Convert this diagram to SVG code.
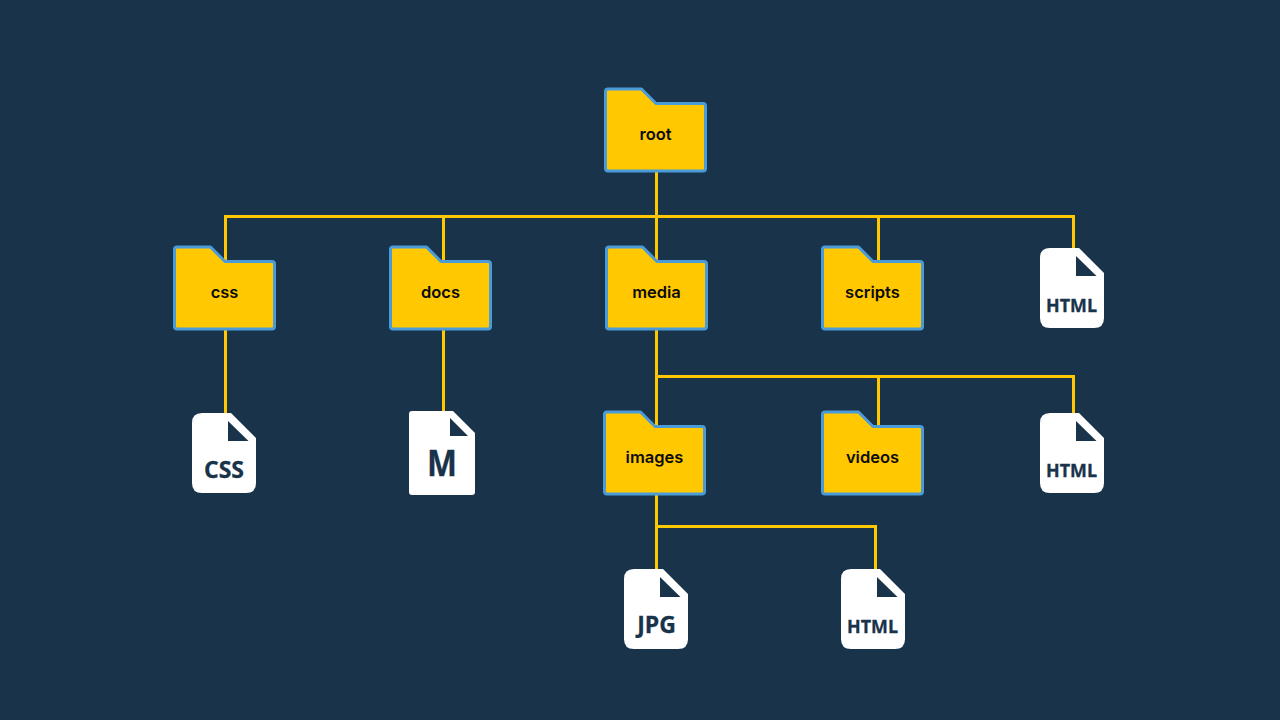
<svg xmlns="http://www.w3.org/2000/svg" width="1280" height="720" viewBox="0 0 1280 720">
<style>
.folder{fill:#ffc800;stroke:#4a9bd8;stroke-width:3;stroke-linejoin:round}
.flabel{font-family:Inter,"Liberation Sans",sans-serif;font-size:16.500px;font-weight:600;fill:#0b0b0b;text-anchor:middle}
.page{fill:#fff}
.notch{fill:#19334b}
.ftext{font-family:"Open Sans","Noto Sans",sans-serif;font-weight:700;fill:#19334b;stroke:#19334b;stroke-width:.3;text-anchor:middle}
.conn{fill:none;stroke:#ffc800;stroke-width:3}
</style>
<defs>
<path id="fo" class="folder" d="M3 0H36.500L51 14.500H98Q100.500 14.500 100.500 17V79.500Q100.500 82 98 82H3Q0.500 82 0.500 79.500V2.500Q0.500 0 3 0Z"/>
<path id="fi" class="page" d="M10 0H39L64 25V70Q64 80 54 80H10Q0 80 0 70V10Q0 0 10 0Z"/>
<path id="tri" class="notch" d="M36 8L56.500 28H36Z"/>
</defs>
<rect width="1280" height="720" fill="#19334b"/>
<g id="connectors">
<path class="conn" d="M656.500 171V262"/>
<path class="conn" d="M225.500 262V216.500H1073.500V248"/>
<path class="conn" d="M443.500 216.500V262M878.500 216.500V262"/>
<path class="conn" d="M225.500 329V413M443.500 329V411"/>
<path class="conn" d="M656.500 329V427M656.500 376.500H1073.500V413M878.500 376.500V427"/>
<path class="conn" d="M656.500 494V569M656.500 526.500H875.500V569"/>
</g>
<g id="root"><use href="#fo" x="605" y="89"/><text class="flabel" x="655.500" y="140">root</text></g>
<g id="css"><use href="#fo" x="174" y="247"/><text class="flabel" x="224.500" y="298">css</text></g>
<g id="docs"><use href="#fo" x="390" y="247"/><text class="flabel" x="440.500" y="298">docs</text></g>
<g id="media"><use href="#fo" x="606" y="247"/><text class="flabel" x="656.500" y="298">media</text></g>
<g id="scripts"><use href="#fo" x="822" y="247"/><text class="flabel" x="872.500" y="298">scripts</text></g>
<g id="images"><use href="#fo" x="604" y="412"/><text class="flabel" x="654.500" y="463">images</text></g>
<g id="videos"><use href="#fo" x="822" y="412"/><text class="flabel" x="872.500" y="463">videos</text></g>
<g id="file-html-1"><use href="#fi" x="1040" y="248"/><use href="#tri" x="1040" y="248"/><text class="ftext" x="1071.500" y="312" font-size="18.500" textLength="51" lengthAdjust="spacingAndGlyphs">HTML</text></g>
<g id="file-html-2"><use href="#fi" x="1040" y="413"/><use href="#tri" x="1040" y="413"/><text class="ftext" x="1071.500" y="477" font-size="18.500" textLength="51" lengthAdjust="spacingAndGlyphs">HTML</text></g>
<g id="file-css"><use href="#fi" x="192" y="413"/><use href="#tri" x="192" y="413"/><text class="ftext" x="224" y="478" font-size="23">CSS</text></g>
<g id="file-md"><path class="page" d="M412 411H453L475 433V492Q475 495 472 495H412Q409 495 409 492V414Q409 411 412 411Z"/><path class="notch" d="M450 418L468 436H450Z"/><text class="ftext" x="442" y="476" font-size="36" stroke-width="1.800" stroke-linejoin="round" textLength="30" lengthAdjust="spacingAndGlyphs">M</text></g>
<g id="file-jpg"><use href="#fi" x="624" y="569"/><use href="#tri" x="624" y="569"/><text class="ftext" x="656.500" y="633" font-size="23">JPG</text></g>
<g id="file-html-3"><use href="#fi" x="841" y="569"/><use href="#tri" x="841" y="569"/><text class="ftext" x="872.500" y="633" font-size="18.500" textLength="51" lengthAdjust="spacingAndGlyphs">HTML</text></g>
</svg>
